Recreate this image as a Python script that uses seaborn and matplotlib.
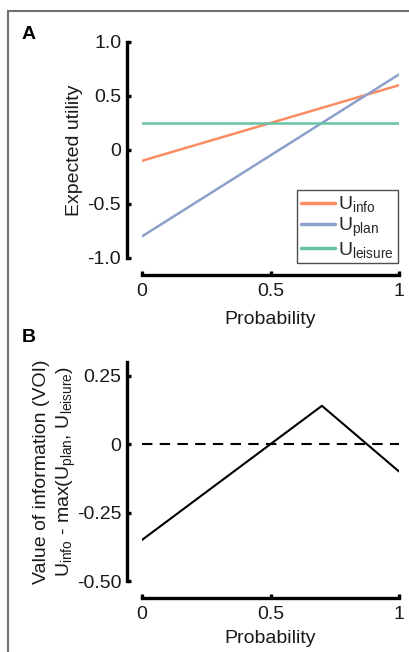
import numpy as np
import pandas as pd
import matplotlib
matplotlib.use("Agg")
import matplotlib.pyplot as plt
import seaborn as sns
from matplotlib.patches import Rectangle

# Data
prob = [0.0, 0.5, 0.7, 0.875, 1.0]
u_info = [-0.1, 0.25, 0.39, 0.5125, 0.6]
u_plan = [-0.8, -0.05, 0.25, 0.5125, 0.7]
u_leisure = [0.25, 0.25, 0.25, 0.25, 0.25]
voi = [-0.35, 0.0, 0.14, 0.0, -0.1]
series_names = ["info", "plan", "leisure"]
colors = ["#fc8d62", "#8da0cb", "#66c2a5"]

sns.set_theme(style="ticks")
plt.rcParams['font.family'] = ['Liberation Sans', 'DejaVu Sans']
plt.rcParams['mathtext.fontset'] = 'custom'
plt.rcParams['mathtext.rm'] = 'Liberation Sans'
plt.rcParams['mathtext.it'] = 'Liberation Sans'
fs = 14
tc = "#1a1a1a"

fig = plt.figure(figsize=(4.09, 6.52), dpi=100)
axA = fig.add_axes([142/409, 1-258/652, 257/409, 216/652])
axB = fig.add_axes([142/409, 1-581/652, 257/409, 219/652])

dfA = pd.DataFrame({
    "Probability": prob * 3,
    "U": u_info + u_plan + u_leisure,
    "series": [s for s in series_names for _ in prob],
})
for name, col in zip(series_names, colors):
    sub = dfA[dfA.series == name]
    sns.lineplot(data=sub, x="Probability", y="U", ax=axA, color=col, lw=1.8,
                 label=r"U$_{\mathrm{%s}}$" % name)

dfB = pd.DataFrame({"Probability": prob, "VOI": voi})
sns.lineplot(data=dfB, x="Probability", y="VOI", ax=axB, color="black", lw=1.5)
axB.plot([0, 1], [0, 0], color="black", lw=1.5, ls=(0, (5, 3.5)))

for ax in (axA, axB):
    ax.set_xlim(0, 1)
    ax.set_xticks([0, 0.5, 1])
    ax.set_xticklabels(["0", "0.5", "1"])
    sns.despine(ax=ax)
    ax.spines['left'].set_position(('outward', 11))
    ax.spines['bottom'].set_position(('outward', 12))
    for s in ('left', 'bottom'):
        ax.spines[s].set_linewidth(2.4)
        ax.spines[s].set_color("black")
    ax.tick_params(direction='in', length=3, width=2.4, labelsize=fs, pad=4,
                   colors="black", labelcolor=tc)
    ax.tick_params(axis='x', pad=6)

axA.set_xlabel("Probability", fontsize=fs, labelpad=8, color=tc)
axB.set_xlabel("Probability", fontsize=fs, labelpad=5, color=tc)

axA.set_ylim(-1.0, 1.0)
axA.set_yticks([-1.0, -0.5, 0, 0.5, 1.0])
axA.set_yticklabels(["-1.0", "-0.5", "0", "0.5", "1.0"])
axA.set_ylabel("Expected utility", fontsize=fs, labelpad=3, color=tc)
leg = axA.legend(loc="lower right", bbox_to_anchor=(0.995, -0.025), fontsize=fs,
                 frameon=True, fancybox=False, handlelength=1.75, handletextpad=0.15,
                 labelspacing=0.05, borderpad=0.2, borderaxespad=0.0)
leg.get_frame().set_edgecolor("#222222")
leg.get_frame().set_linewidth(1.0)
for lh in leg.get_lines():
    lh.set_linewidth(2.5)

axB.set_ylim(-0.5, 0.3)
axB.set_yticks([-0.5, -0.25, 0, 0.25])
axB.set_yticklabels(["-0.50", "-0.25", "0", "0.25"])
axB.set_ylabel("Value of information (VOI)\n"
               r"U$_{\mathrm{info}}$ - max(U$_{\mathrm{plan}}$, U$_{\mathrm{leisure}}$)",
               fontsize=fs, labelpad=-1, color=tc, linespacing=1.35)

fig.text(22/409, 1-39/652, "A", fontsize=14, fontweight="bold", color="black")
fig.text(22/409, 1-342/652, "B", fontsize=14, fontweight="bold", color="black")

fig.add_artist(Rectangle((8/409, -0.1), 1.5, 1.1 - 11/652, transform=fig.transFigure,
                         fill=False, ec="#707070", lw=1.5))

fig.savefig("out.png", dpi=100)
